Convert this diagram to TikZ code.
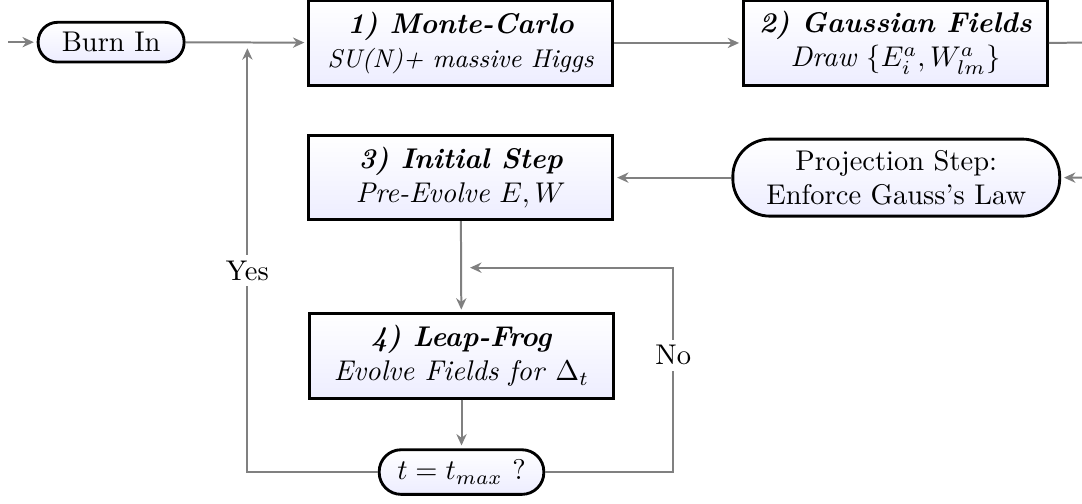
\documentclass[tikz,border=0pt]{standalone}
\usepackage{tikz}
\usetikzlibrary{arrows.meta, calc, shadows}
\definecolor{boxBlue}{rgb}{0.93, 0.93, 1}
\definecolor{flowGray}{rgb}{0.5, 0.5, 0.5}
\tikzset{
  stepbox/.style={rectangle, draw=black, line width=1pt, top color=white, bottom color=boxBlue,
    minimum width=3.75cm, minimum height=1.04cm, align=center,
    drop shadow={shadow xshift=0.5pt, shadow yshift=-0.5pt, fill=black!40, opacity=0.8}},
  pillbox/.style={rectangle, rounded corners=#1, draw=black, line width=1pt, top color=white, bottom color=boxBlue, align=center},
  flow/.style={draw=flowGray, line width=0.7pt, -{Stealth[length=4pt, width=3.6pt, inset=1.3pt]}, shorten >=1pt},
  lbl/.style={fill=white, inner sep=2pt}
}

\begin{document}
\begin{tikzpicture}
  \useasboundingbox (0,0) rectangle (13.34,-6.21);
  \coordinate (start) at (0.1,-0.52);
  \coordinate (join) at (3.05,-0.56);
  \coordinate (rgt) at (13.7,-0.52);
  \coordinate (nocorner) at (8.30,-3.30);
  \coordinate (nojoin) at (5.76,-3.30);
  \node[pillbox=0.24cm, minimum width=1.80cm, minimum height=0.49cm] (burn) at (1.37,-0.52) {Burn In};
  \node[stepbox] (mc) at (5.68,-0.53) {\textbf{\textit{1) Monte-Carlo}}\\ \small\textit{SU(N)+ massive Higgs}};
  \node[stepbox] (gauss) at (11.04,-0.53) {\textbf{\textit{2) Gaussian Fields}}\\ \textit{Draw} $\{E_i^a, W_{lm}^a\}$};
  \node[stepbox] (init) at (5.68,-2.19) {\textbf{\textit{3) Initial Step}}\\ \textit{Pre-Evolve} $E,W$};
  \node[pillbox=0.46cm, minimum width=4.03cm, minimum height=0.95cm] (proj) at (11.05,-2.19) {Projection Step:\\ Enforce Gauss's Law};
  \node[stepbox] (leap) at (5.69,-4.39) {\textbf{\textit{4) Leap-Frog}}\\ \textit{Evolve Fields for} $\Delta_t$};
  \node[pillbox=0.27cm, minimum width=2.03cm, minimum height=0.55cm] (tmax) at (5.69,-5.82) {$t=t_{max}$ ?};
  \draw[flow] (start) -- (burn);
  \draw[flow] (burn) -- (mc);
  \draw[flow] (mc) -- (gauss);
  \draw[flow] (gauss.east) -- (rgt) |- (proj.east);
  \draw[flow] (proj) -- (init);
  \draw[flow] (init) -- (leap);
  \draw[flow] (leap) -- (tmax);
  \draw[flow] (tmax.west) -| node[lbl, pos=0.736] {Yes} (join);
  \draw[flow] (tmax.east) -| node[lbl, pos=0.786] {No} (nocorner) -- (nojoin);
\end{tikzpicture}
\end{document}
